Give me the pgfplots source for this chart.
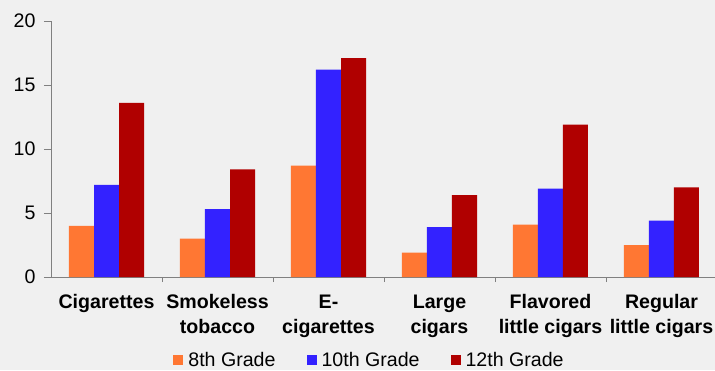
\documentclass[border=0pt]{standalone}
\usepackage{pgfplots}
\pgfplotsset{compat=1.18}
\usepackage{fontspec}
\setmainfont{Liberation Sans}

\definecolor{bgc}{HTML}{F0F0F0}
\definecolor{gEight}{HTML}{FF7733}
\definecolor{gTen}{HTML}{3322FF}
\definecolor{gTwelve}{HTML}{B00000}
\definecolor{axc}{HTML}{808080}

\begin{document}
\begin{tikzpicture}[x=1pt,y=1pt]
\fill[bgc] (0,0) rectangle (715,370);
\begin{axis}[
  at={(51pt,93pt)}, anchor=south west,
  scale only axis, width=666pt, height=256pt,
  ybar=0pt, bar width=25pt,
  xmin=-0.5, xmax=5.5, ymin=0, ymax=20,
  ytick={0,5,10,15,20},
  xtick={0,1,2,3,4,5},
  xticklabels={Cigarettes, {Smokeless\\tobacco}, {E-\\cigarettes}, {Large\\cigars}, {Flavored\\little cigars}, {Regular\\little cigars}},
  minor xtick={0.5,1.5,2.5,3.5,4.5},
  major x tick style={draw=none},
  tick align=outside,
  major tick length=7pt, minor tick length=5pt,
  tick style={axc, line width=0.8pt},
  axis x line*=bottom, axis y line*=left,
  axis line style={axc, line width=0.8pt, -},
  xticklabel style={font=\fontsize{19.6}{25}\selectfont\bfseries, align=center, text=black, yshift=-7pt},
  yticklabel style={font=\fontsize{19.6}{23}\selectfont, text=black, xshift=-5pt},
  /pgf/number format/assume math mode=true,
  axis background/.style={fill=none},
  legend columns=3,
  legend style={at={(axis description cs:0.4775,-0.324)}, anchor=center,
    draw=none, fill=none, font=\fontsize{19.6}{23}\selectfont,
    /tikz/every odd column/.append style={column sep=4pt},
    /tikz/every even column/.append style={column sep=30pt},
    nodes={inner sep=1pt}},
  legend image code/.code={\fill[#1] (0pt,-5pt) rectangle (10pt,5pt);},
]
\addplot[fill=gEight, draw=none] coordinates {(0,4.0) (1,3.0) (2,8.7) (3,1.9) (4,4.1) (5,2.5)};
\addplot[fill=gTen, draw=none] coordinates {(0,7.2) (1,5.3) (2,16.2) (3,3.9) (4,6.9) (5,4.4)};
\addplot[fill=gTwelve, draw=none] coordinates {(0,13.6) (1,8.4) (2,17.1) (3,6.4) (4,11.9) (5,7.0)};
\legend{8th Grade, 10th Grade, 12th Grade}
\end{axis}
\pgfresetboundingbox
\path[use as bounding box] (0,0) rectangle (715,370);
\end{tikzpicture}
\end{document}
